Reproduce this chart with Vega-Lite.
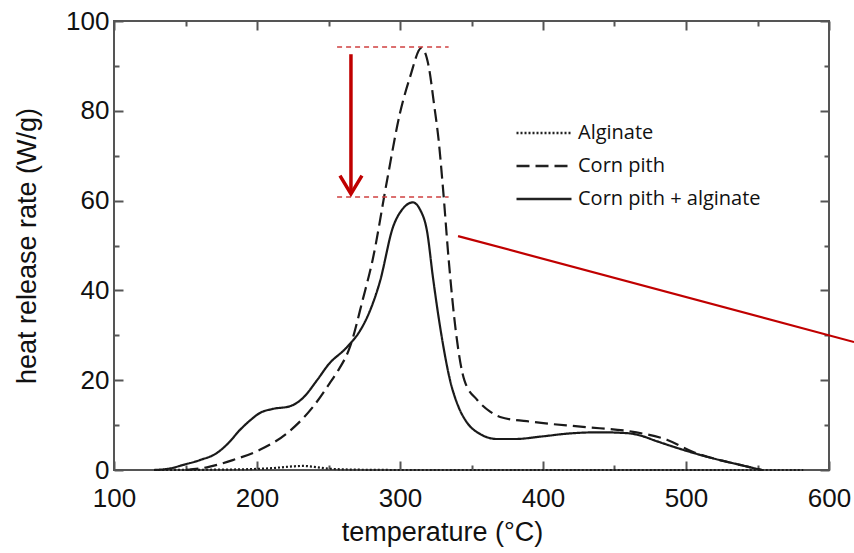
{
  "$schema": "https://vega.github.io/schema/vega-lite/v6.json",
  "width": 715,
  "height": 449,
  "autosize": "none",
  "padding": {"left": 114, "top": 21, "right": 25, "bottom": 83},
  "background": "white",
  "config": {
    "view": {"stroke": "#555", "strokeWidth": 2},
    "axis": {
      "grid": false,
      "domain": false,
      "labelFlush": false,
      "labelFont": "Liberation Sans",
      "labelFontSize": 26,
      "labelColor": "#111",
      "titleFont": "Liberation Sans",
      "titleFontSize": 27,
      "titleFontWeight": "normal",
      "titleColor": "#111",
      "tickColor": "#555",
      "tickWidth": 2
    }
  },
  "datasets": {
    "curves": [
      {"series": "Corn pith + alginate", "T": 128, "v": 0},
      {"series": "Corn pith + alginate", "T": 140, "v": 0.4},
      {"series": "Corn pith + alginate", "T": 148, "v": 1.1},
      {"series": "Corn pith + alginate", "T": 160, "v": 2.2},
      {"series": "Corn pith + alginate", "T": 172, "v": 3.8},
      {"series": "Corn pith + alginate", "T": 180, "v": 6},
      {"series": "Corn pith + alginate", "T": 188, "v": 8.9},
      {"series": "Corn pith + alginate", "T": 195, "v": 11},
      {"series": "Corn pith + alginate", "T": 202, "v": 12.7},
      {"series": "Corn pith + alginate", "T": 211, "v": 13.6},
      {"series": "Corn pith + alginate", "T": 223, "v": 14.2},
      {"series": "Corn pith + alginate", "T": 232, "v": 16},
      {"series": "Corn pith + alginate", "T": 242, "v": 20},
      {"series": "Corn pith + alginate", "T": 250, "v": 23.5},
      {"series": "Corn pith + alginate", "T": 263, "v": 27.4},
      {"series": "Corn pith + alginate", "T": 272, "v": 31},
      {"series": "Corn pith + alginate", "T": 277, "v": 34},
      {"series": "Corn pith + alginate", "T": 286, "v": 42},
      {"series": "Corn pith + alginate", "T": 295, "v": 54},
      {"series": "Corn pith + alginate", "T": 302, "v": 58.2},
      {"series": "Corn pith + alginate", "T": 309, "v": 59.6},
      {"series": "Corn pith + alginate", "T": 314, "v": 58},
      {"series": "Corn pith + alginate", "T": 319, "v": 53},
      {"series": "Corn pith + alginate", "T": 323, "v": 43},
      {"series": "Corn pith + alginate", "T": 329, "v": 30},
      {"series": "Corn pith + alginate", "T": 335, "v": 20},
      {"series": "Corn pith + alginate", "T": 341, "v": 14},
      {"series": "Corn pith + alginate", "T": 347, "v": 10.5},
      {"series": "Corn pith + alginate", "T": 355, "v": 8.2},
      {"series": "Corn pith + alginate", "T": 368, "v": 6.9},
      {"series": "Corn pith + alginate", "T": 380, "v": 6.9},
      {"series": "Corn pith + alginate", "T": 400, "v": 7.5},
      {"series": "Corn pith + alginate", "T": 417, "v": 8.1},
      {"series": "Corn pith + alginate", "T": 440, "v": 8.4},
      {"series": "Corn pith + alginate", "T": 459, "v": 8.2},
      {"series": "Corn pith + alginate", "T": 470, "v": 7.5},
      {"series": "Corn pith + alginate", "T": 477, "v": 6.7},
      {"series": "Corn pith + alginate", "T": 490, "v": 5.3},
      {"series": "Corn pith + alginate", "T": 503, "v": 4},
      {"series": "Corn pith + alginate", "T": 520, "v": 2.5},
      {"series": "Corn pith + alginate", "T": 533, "v": 1.5},
      {"series": "Corn pith + alginate", "T": 545, "v": 0.6},
      {"series": "Corn pith + alginate", "T": 553, "v": 0},
      {"series": "Corn pith", "T": 150, "v": 0},
      {"series": "Corn pith", "T": 165, "v": 0.6},
      {"series": "Corn pith", "T": 183, "v": 2.2},
      {"series": "Corn pith", "T": 202, "v": 4.5},
      {"series": "Corn pith", "T": 221, "v": 8.2},
      {"series": "Corn pith", "T": 239, "v": 14},
      {"series": "Corn pith", "T": 251, "v": 19.4},
      {"series": "Corn pith", "T": 256, "v": 21.8},
      {"series": "Corn pith", "T": 265, "v": 27.4},
      {"series": "Corn pith", "T": 274, "v": 38},
      {"series": "Corn pith", "T": 281, "v": 47},
      {"series": "Corn pith", "T": 291, "v": 64.6},
      {"series": "Corn pith", "T": 300, "v": 79.5},
      {"series": "Corn pith", "T": 307, "v": 87.5},
      {"series": "Corn pith", "T": 315, "v": 94},
      {"series": "Corn pith", "T": 320, "v": 90},
      {"series": "Corn pith", "T": 324, "v": 81},
      {"series": "Corn pith", "T": 327, "v": 73.5},
      {"series": "Corn pith", "T": 330, "v": 63},
      {"series": "Corn pith", "T": 334, "v": 47},
      {"series": "Corn pith", "T": 339, "v": 31},
      {"series": "Corn pith", "T": 345, "v": 20},
      {"series": "Corn pith", "T": 354, "v": 15.6},
      {"series": "Corn pith", "T": 363, "v": 13},
      {"series": "Corn pith", "T": 370, "v": 11.8},
      {"series": "Corn pith", "T": 393, "v": 10.7},
      {"series": "Corn pith", "T": 428, "v": 9.6},
      {"series": "Corn pith", "T": 463, "v": 8.5},
      {"series": "Corn pith", "T": 487, "v": 6.7},
      {"series": "Corn pith", "T": 505, "v": 4},
      {"series": "Corn pith", "T": 520, "v": 2.5},
      {"series": "Corn pith", "T": 533, "v": 1.5},
      {"series": "Corn pith", "T": 545, "v": 0.6},
      {"series": "Corn pith", "T": 553, "v": 0},
      {"series": "Alginate", "T": 128, "v": 0},
      {"series": "Alginate", "T": 180, "v": 0.1},
      {"series": "Alginate", "T": 210, "v": 0.4},
      {"series": "Alginate", "T": 225, "v": 0.8},
      {"series": "Alginate", "T": 232, "v": 0.9},
      {"series": "Alginate", "T": 240, "v": 0.7},
      {"series": "Alginate", "T": 250, "v": 0.3},
      {"series": "Alginate", "T": 265, "v": 0.1},
      {"series": "Alginate", "T": 300, "v": 0},
      {"series": "Alginate", "T": 400, "v": 0},
      {"series": "Alginate", "T": 500, "v": 0},
      {"series": "Alginate", "T": 582, "v": 0}
    ],
    "guides": [
      {"x1": 256, "x2": 334, "y": 94.2},
      {"x1": 256, "x2": 334, "y": 60.8}
    ],
    "arrow": [
      {"x": 265.7, "y1": 92.6, "y2": 61.5}
    ],
    "pointer": [
      {"T": 340.6, "v": 52.1},
      {"T": 617.5, "v": 28.5}
    ]
  },
  "layer": [
    {
      "data": {"name": "curves"},
      "mark": {"type": "line", "color": "#1a1a1a", "strokeWidth": 2.2, "interpolate": "monotone"},
      "encoding": {
        "x": {"field": "T", "type": "quantitative", "scale": {"domain": [100, 600], "nice": false},
              "axis": {"orient": "bottom", "values": [100, 200, 300, 400, 500, 600], "tickSize": -9, "labelPadding": 24, "title": "temperature (°C)", "titlePadding": 8, "titleX": 328}},
        "y": {"field": "v", "type": "quantitative", "scale": {"domain": [0, 100], "nice": false},
              "axis": {"orient": "left", "values": [0, 20, 40, 60, 80, 100], "tickSize": -9, "labelPadding": 14, "title": "heat release rate (W/g)", "titlePadding": 24}},
        "strokeDash": {"field": "series", "type": "nominal",
          "scale": {"domain": ["Alginate", "Corn pith", "Corn pith + alginate"], "range": [[2, 2], [13, 6], [1, 0]]},
          "legend": {"title": null, "orient": "none", "legendX": 415, "legendY": 97, "symbolType": "M-2,0L2,0", "symbolSize": 756, "symbolStrokeWidth": 2.5, "symbolStrokeColor": "#222", "labelFont": "Open Sans", "labelFontSize": 20, "labelColor": "#111", "labelOffset": 19, "labelLimit": 400, "rowPadding": 8}
        }
      }
    },
    {
      "data": {"name": "guides"},
      "mark": {"type": "rule", "color": "#d04040", "strokeWidth": 1.5, "strokeDash": [5, 4]},
      "encoding": {
        "x": {"field": "x1", "type": "quantitative", "scale": {"domain": [100, 600], "nice": false},
              "axis": {"orient": "bottom", "values": [150, 250, 350, 450, 550], "tickSize": -5, "labels": false, "title": null}},
        "x2": {"field": "x2"},
        "y": {"field": "y", "type": "quantitative", "scale": {"domain": [0, 100], "nice": false},
              "axis": {"orient": "left", "values": [10, 30, 50, 70, 90], "tickSize": -5, "labels": false, "title": null}}
      }
    },
    {
      "data": {"name": "arrow"},
      "mark": {"type": "rule", "color": "#c00000", "strokeWidth": 3.5},
      "encoding": {
        "x": {"field": "x", "type": "quantitative", "scale": {"domain": [100, 600], "nice": false},
              "axis": {"orient": "top", "values": [100, 200, 300, 400, 500, 600], "tickSize": -9, "labels": false, "title": null}},
        "y": {"field": "y1", "type": "quantitative", "scale": {"domain": [0, 100], "nice": false},
              "axis": {"orient": "right", "values": [0, 20, 40, 60, 80, 100], "tickSize": -9, "labels": false, "title": null}},
        "y2": {"field": "y2"}
      }
    },
    {
      "data": {"name": "arrow"},
      "mark": {"type": "point", "shape": "M-1,-1.65L0,0L1,-1.65", "size": 484, "filled": false, "stroke": "#c00000", "strokeWidth": 3.5, "opacity": 1, "strokeJoin": "miter"},
      "encoding": {
        "x": {"field": "x", "type": "quantitative", "scale": {"domain": [100, 600], "nice": false},
              "axis": {"orient": "top", "values": [150, 250, 350, 450, 550], "tickSize": -5, "labels": false, "title": null}},
        "y": {"field": "y2", "type": "quantitative", "scale": {"domain": [0, 100], "nice": false},
              "axis": {"orient": "right", "values": [10, 30, 50, 70, 90], "tickSize": -5, "labels": false, "title": null}}
      }
    },
    {
      "data": {"name": "pointer"},
      "mark": {"type": "line", "color": "#c00000", "strokeWidth": 2.2, "clip": false},
      "encoding": {
        "x": {"field": "T", "type": "quantitative", "scale": {"domain": [100, 600], "nice": false}, "axis": null},
        "y": {"field": "v", "type": "quantitative", "scale": {"domain": [0, 100], "nice": false}, "axis": null}
      }
    }
  ],
  "resolve": {"axis": {"x": "independent", "y": "independent"}}
}
